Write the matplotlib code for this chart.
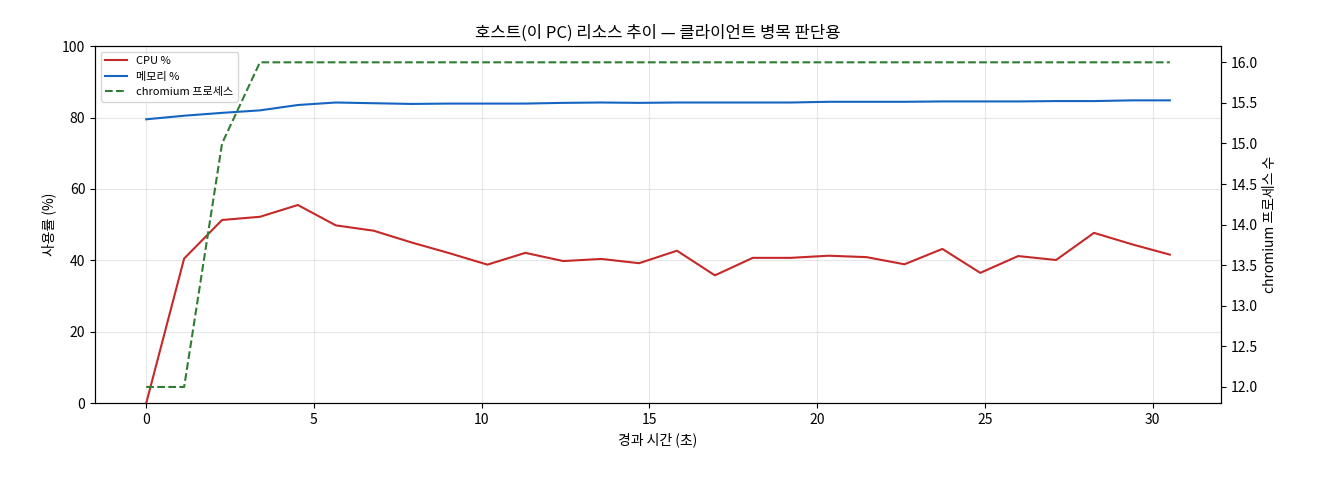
import matplotlib
matplotlib.use("Agg")
import matplotlib.pyplot as plt

plt.rcParams['font.family'] = ['Noto Sans CJK KR', 'DejaVu Sans']

t = [i * 1.13 for i in range(28)]
cpu = [0, 40.5, 51.3, 52.2, 55.5, 49.8, 48.3, 45.0, 42.0, 38.8, 42.1, 39.8, 40.4, 39.2,
       42.7, 35.8, 40.7, 40.7, 41.3, 40.9, 38.9, 43.2, 36.5, 41.2, 40.1, 47.7, 44.5, 41.6]
mem = [79.5, 80.5, 81.3, 82.0, 83.5, 84.2, 84.0, 83.8, 83.9, 83.9, 83.9, 84.1, 84.2, 84.1,
       84.2, 84.2, 84.2, 84.2, 84.4, 84.4, 84.4, 84.5, 84.5, 84.5, 84.6, 84.6, 84.8, 84.8]
chrom = [12, 12, 15, 16] + [16] * 24

fig = plt.figure(figsize=(13.2, 4.8), dpi=100)
ax = fig.add_axes([0.072, 0.16, 0.853, 0.744])
l1, = ax.plot(t, cpu, color='#c62828', lw=1.5, label='CPU %')
l2, = ax.plot(t, mem, color='#1565c0', lw=1.5, label='메모리 %')
ax.set_ylim(0, 100)
ax.set_xlabel('경과 시간 (초)')
ax.set_ylabel('사용률 (%)')
ax.grid(True, alpha=0.3)
ax2 = ax.twinx()
l3, = ax2.plot(t, chrom, color='#2e7d32', lw=1.5, ls='--', label='chromium 프로세스')
ax2.set_ylim(11.8, 16.2)
ax2.set_ylabel('chromium 프로세스 수')
ax.set_title('호스트(이 PC) 리소스 추이 — 클라이언트 병목 판단용')
ax.legend(handles=[l1, l2, l3], loc='upper left', fontsize=8)
fig.savefig('out.png')
